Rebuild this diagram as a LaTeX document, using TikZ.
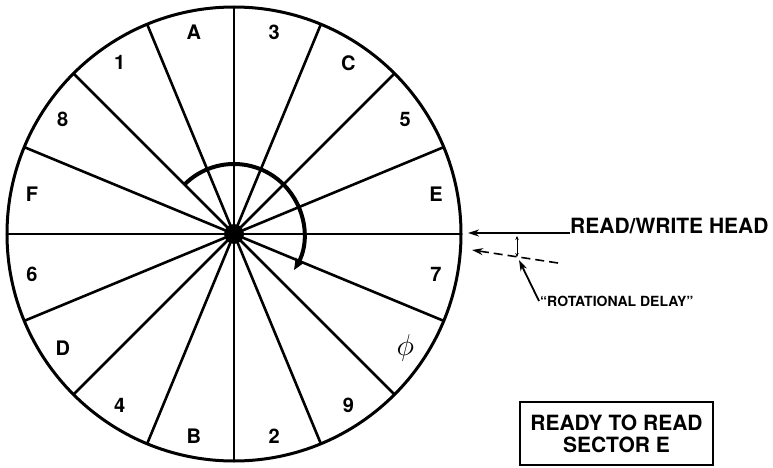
\documentclass[tikz,border=0pt]{standalone}
\usepackage{fontspec}
\setmainfont{TeX Gyre Heros}
\usepackage{tikz}
\usetikzlibrary{positioning, arrows.meta, calc}

\begin{document}
\begin{tikzpicture}[x=1pt, y=1pt,
    rim/.style={line width=3pt},
    spoke/.style={line width=2.6pt},
    seclabel/.style={font=\fontsize{20}{20}\selectfont\bfseries, inner sep=0pt},
    caption/.style={font=\fontsize{21}{22}\selectfont\bfseries, align=center},
    arr/.style={-{Stealth[length=11pt, width=7pt]}, line width=1.8pt}]

  \useasboundingbox (0,0) rectangle (773,467);

  % the disk and its sixteen sectors
  \coordinate (hub) at (234,233);
  \draw[rim] (hub) circle[radius=227];
  \foreach \k in {0,...,15}
    \draw[spoke] (hub) -- ($(hub)+(\k*22.5:227)$);
  \fill (hub) circle[radius=10];

  % sector names, counter-clockwise from the head
  \foreach \lbl [count=\k from 0] in {E,5,C,3,A,1,8,F,6,D,4,B,2,9,\scalebox{1.45}{$\phi$},7}
    \node[seclabel] (s\k) at ($(hub)+(11.25+\k*22.5:206)$) {\lbl};

  % direction of rotation
  \draw[line width=4pt, -{Stealth[length=12pt, width=10pt]}]
    ($(hub)+(135:70)$) arc[start angle=135, end angle=-31, radius=70];

  % head and delay
  \node[caption, anchor=base west, inner sep=0pt] (head) at (570,234) {READ/WRITE HEAD};
  \coordinate (headtip) at (468,234);
  \draw[arr] (head.base west) -- (headtip);

  \coordinate (lagtail) at (558,204);
  \coordinate (lagtip) at (472,217);
  \draw[arr, line width=1.6pt, dash pattern=on 9pt off 5pt] (lagtail) -- (lagtip);

  \coordinate (gaptop) at (517,231);
  \coordinate (gapbot) at (517,210);
  \draw[{Stealth[length=4pt, width=3.5pt]}-{Stealth[length=4pt, width=3.5pt]}, line width=1pt]
    (gaptop) -- (gapbot);

  \node[font=\fontsize{14}{14}\selectfont\bfseries, anchor=west, inner sep=1pt] (delay)
    at (539,166) {``ROTATIONAL DELAY''};
  \coordinate (lagpt) at (519,207);
  \draw[arr, line width=1.8pt] (delay.west) -- (lagpt);

  \node[draw, line width=2pt, caption, minimum width=193pt, minimum height=63pt] (ready)
    at (616.5,33.5) {READY TO READ\\SECTOR E};
\end{tikzpicture}
\end{document}
